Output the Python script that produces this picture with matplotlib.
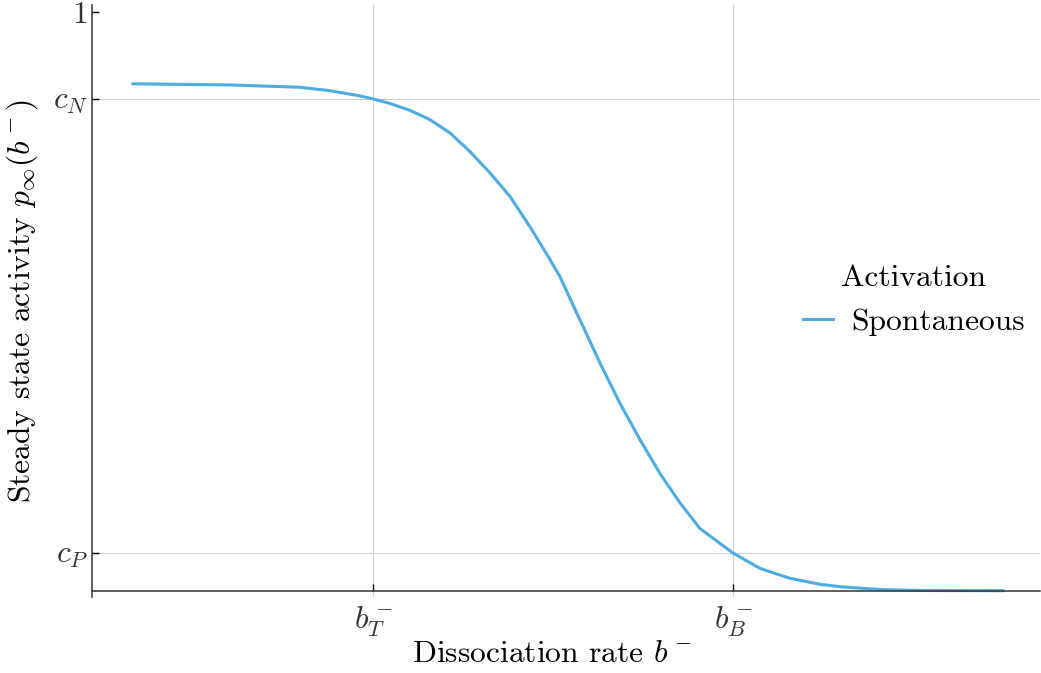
import matplotlib
matplotlib.use("Agg")
import matplotlib.pyplot as plt

plt.rcParams['font.family'] = ['cmr10', 'DejaVu Serif']
plt.rcParams['mathtext.fontset'] = 'cm'
plt.rcParams['axes.unicode_minus'] = False

# curve (x = log10 of dissociation rate, b_T at 0, b_B at 1)
logb = [-0.667, -0.397, -0.203, -0.119, -0.036, 0.0, 0.047, 0.103, 0.158, 0.214,
        0.269, 0.325, 0.381, 0.436, 0.492, 0.519, 0.575, 0.631, 0.686, 0.742,
        0.797, 0.853, 0.908, 1.0, 1.075, 1.158, 1.242, 1.297, 1.408, 1.519, 1.75]
activity = [0.876, 0.874, 0.870, 0.864, 0.855, 0.850, 0.842, 0.830, 0.814, 0.791,
            0.759, 0.722, 0.681, 0.629, 0.572, 0.543, 0.468, 0.393, 0.324, 0.261,
            0.203, 0.152, 0.108, 0.0656, 0.039, 0.022, 0.0115, 0.0074, 0.0026, 0.0009, 0.0005]

c_N = 0.850
c_P = 0.0656
xticks = [0.0, 1.0]
xticklabels = [r'$b^-_T$', r'$b^-_B$']
yticks = [c_P, c_N, 1.0]
yticklabels = [r'$c_P$', r'$c_N$', '1']

fs = 22.7

fig = plt.figure(figsize=(10.41, 6.73), dpi=100)
ax = fig.add_axes([92/1041, 1 - 597/673, 948/1041, 592/673])

# guide lines
for v in xticks:
    ax.axvline(v, color='#d0d0d0', lw=0.8, zorder=0)
for v in [c_P, c_N]:
    ax.axhline(v, color='#d0d0d0', lw=0.8, zorder=0)

ax.plot(logb, activity, color='#4DADE2', lw=2.2, label='Spontaneous')

ax.set_xlim(-0.781, 1.853)
ax.set_ylim(-6/579, 1 + 7/579)

for s in ['top', 'right']:
    ax.spines[s].set_visible(False)
ax.spines['bottom'].set_position(('data', 0))
ax.spines['bottom'].set_color('#333333')
ax.spines['left'].set_color('#333333')
ax.spines['bottom'].set_linewidth(1.1)
ax.spines['left'].set_linewidth(1.1)

ax.set_xticks(xticks)
ax.set_xticklabels(xticklabels, fontsize=fs, color='#333333')
ax.set_yticks(yticks)
ax.set_yticklabels(yticklabels, fontsize=fs, color='#333333')
ax.tick_params(axis='x', direction='in', length=5, width=1, pad=10)
ax.tick_params(axis='y', direction='in', length=5, width=1, pad=3)

ax.set_xlabel(r'Dissociation rate $b^-$', fontsize=fs)
ax.xaxis.set_label_coords((552 - 92) / 948, -(641 - 597) / 592)
ax.set_ylabel(r'Steady state activity $p_\infty(b^-)$', fontsize=fs)
ax.yaxis.set_label_coords(-(92 - 40) / 948, 0.5)

leg = ax.legend(title='Activation', loc='center', bbox_to_anchor=(914/1041, 1 - 300/673),
                bbox_transform=fig.transFigure, frameon=False, fontsize=fs,
                title_fontsize=fs, handlelength=0.95, handletextpad=0.6)

fig.savefig('out.png', dpi=100)
